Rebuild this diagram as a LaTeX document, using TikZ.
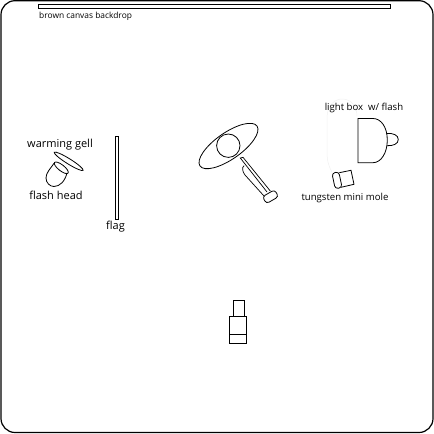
\documentclass[tikz,border=0pt]{standalone}
\usepackage{fontspec}
\setmainfont{Open Sans}
\usetikzlibrary{positioning}
\tikzset{
  outline/.style={draw=black,line width=0.8pt},
  lbl/.style={inner sep=0pt,font=\fontsize{9.6}{11}\selectfont},
  lblbig/.style={inner sep=0pt,font=\fontsize{11}{13}\selectfont},
}
\begin{document}
\begin{tikzpicture}[x=1pt,y=-1pt]
  \useasboundingbox (0,0) rectangle (434,434);
  \draw[line width=1.2pt,rounded corners=14pt] (1,0.7) rectangle (433,432.5);
  % backdrop
  \draw[outline] (38.7,4.5) rectangle (390.8,8.3);
  \node[lbl,anchor=west,font=\fontsize{8.4}{10}\selectfont] (backdrop) at (39,16.5) {brown canvas backdrop};
  % flash head with gel
  \node[lblbig] (gell) at (60,145) {warming gell};
  \draw[outline] (68.7,161.3) ellipse[x radius=17pt,y radius=2.6pt,rotate=-32];
  \draw[outline] (61.3,167.8) ellipse[x radius=8.6pt,y radius=3pt,rotate=-38];
  \draw[outline] (54.3,163) .. controls (50,169) and (46,173) .. (46,178)
    .. controls (46,183) and (50,186.5) .. (54,186.5)
    .. controls (60,186.5) and (65,181) .. (67,173);
  \node[lblbig] (head) at (56,195) {flash head};
  % flag
  \draw[outline] (115.2,136) rectangle (118.5,219);
  \node[lblbig] (flag) at (115.5,227) {flag};
  % subject
  \draw[outline] (228.5,146) ellipse[x radius=34.8pt,y radius=13.2pt,rotate=35];
  \draw[outline] (228.3,145.7) circle (11.7pt);
  \draw[outline,line width=0.7pt] (267,192) -- (240.3,158) -- (243,157.3) -- (270.3,191);
  \draw[outline,line width=0.7pt] (244.2,165.7) .. controls (241.5,167) and (242.5,172) .. (245,175) -- (264,196);
  \draw[outline,fill=white,rounded corners=3pt,rotate around={30:(270.5,196.7)}] (263.5,192.7) rectangle (277.5,200.7);
  % light box
  \draw[black!6,line width=0.5pt] (332,172) .. controls (328,165) and (327,160) .. (327,150) -- (327,118)
    .. controls (327,105) and (335,99) .. (342,99) .. controls (350,99) and (357,105) .. (357,116);
  \node[lbl] (box) at (364,108) {light box\ \ w/ flash};
  \draw[outline] (358,118.5) -- (373,118.5) .. controls (381,118.5) and (387.3,127) .. (387.3,140)
    .. controls (387.3,153) and (381,162.7) .. (373,162.7) -- (358,162.7) -- cycle;
  \draw[outline] (387,133.5) .. controls (393,133) and (398.3,135) .. (398.3,139.5)
    .. controls (398.3,144) and (393,146) .. (387,145.7);
  % mini mole
  \draw[outline] (339.3,172.7) -- (351,170.3) -- (354,184.3) -- (341,187.3);
  \draw[outline,fill=white,rounded corners=3pt,rotate around={12:(337,180.3)}] (333.5,172.3) rectangle (340.5,188.3);
  \node[lbl] (mole) at (345,198.5) {tungsten mini mole};
  % camera
  \draw[outline] (233.5,300) rectangle (244,316.7);
  \draw[outline] (229.5,316.7) rectangle (246.7,343.3);
  \draw[outline] (229.5,334) -- (246.7,334);
\end{tikzpicture}
\end{document}
